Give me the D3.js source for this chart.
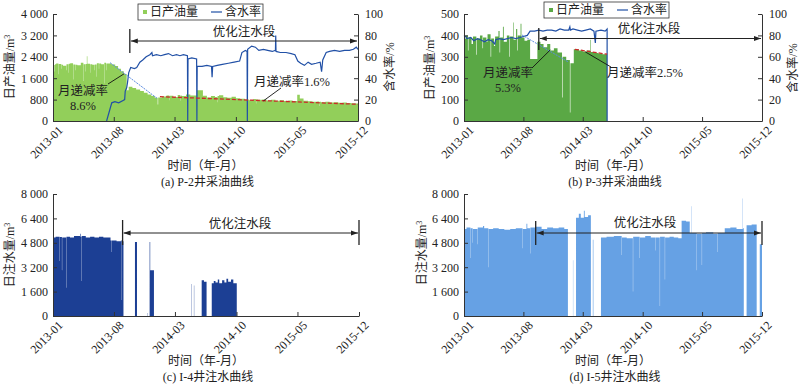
<!DOCTYPE html>
<html><head><meta charset="utf-8">
<script src="https://cdnjs.cloudflare.com/ajax/libs/d3/7.8.5/d3.min.js"></script>
<style>
html,body{margin:0;padding:0;background:#fff;}
svg{display:block;font-family:"Liberation Serif","Noto Sans CJK SC",serif;}
</style></head>
<body><svg id="c" width="800" height="384"></svg>
<script>
// ---------------- data ----------------
const xTickLabels = ["2013-01","2013-08","2014-03","2014-10","2015-05","2015-12"];
const oilTicksA = [0,800,1600,2400,3200,4000];
const oilTicksB = [0,100,200,300,400,500];
const wcTicks = [0,20,40,60,80,100];
const injTicks = [0,1600,3200,4800,6400,8000];

// P-2 daily oil (m3/d), step series [date, value]
const oilA = [["2013-01-01",2090],["2013-01-07",1850],["2013-01-08",2120],["2013-01-12",2150],["2013-01-20",1750],["2013-01-21",2130],["2013-01-30",1950],["2013-01-31",2100],["2013-02-05",2070],["2013-02-16",1900],["2013-02-17",2120],["2013-02-24",1800],["2013-02-25",2140],["2013-03-02",2160],["2013-03-12",1550],["2013-03-13",2110],["2013-03-20",1900],["2013-03-21",2100],["2013-03-27",2080],["2013-04-08",2180],["2013-04-17",1500],["2013-04-18",2120],["2013-04-24",1850],["2013-04-25",2130],["2013-04-29",2420],["2013-05-01",2140],["2013-05-10",1800],["2013-05-11",2120],["2013-05-18",2100],["2013-05-26",1900],["2013-05-27",2110],["2013-06-02",1650],["2013-06-03",2160],["2013-06-10",1950],["2013-06-11",2150],["2013-06-18",2120],["2013-06-28",1400],["2013-06-29",2180],["2013-07-05",1900],["2013-07-06",2150],["2013-07-12",2150],["2013-07-25",2110],["2013-08-06",2060],["2013-08-16",1950],["2013-08-26",1860],["2013-09-05",1760],["2013-09-15",1150],["2013-09-22",1280],["2013-10-05",1230],["2013-10-18",1180],["2013-11-01",1120],["2013-11-14",1060],["2013-11-27",990],["2013-12-10",930],["2013-12-22",870],["2014-01-01",620],["2014-01-03",880],["2014-01-16",920],["2014-02-01",950],["2014-02-10",780],["2014-02-11",940],["2014-02-25",900],["2014-03-12",970],["2014-03-20",760],["2014-03-21",950],["2014-03-26",930],["2014-04-10",990],["2014-04-25",950],["2014-05-18",1150],["2014-06-08",940],["2014-06-22",880],["2014-07-06",930],["2014-07-20",900],["2014-07-28",700],["2014-07-29",930],["2014-08-03",960],["2014-08-18",890],["2014-09-01",870],["2014-09-16",910],["2014-10-01",850],["2014-10-16",830],["2014-11-01",800],["2014-11-16",780],["2014-12-01",820],["2014-12-10",650],["2014-12-11",810],["2014-12-16",790],["2015-01-01",800],["2015-01-16",770],["2015-02-01",790],["2015-02-16",760],["2015-03-03",780],["2015-03-18",750],["2015-04-02",770],["2015-04-17",750],["2015-05-03",980],["2015-05-12",840],["2015-05-25",760],["2015-06-10",740],["2015-06-25",720],["2015-07-10",730],["2015-07-18",560],["2015-07-19",720],["2015-07-25",700],["2015-08-09",720],["2015-08-24",690],["2015-09-08",700],["2015-09-23",680],["2015-10-08",690],["2015-10-23",670],["2015-11-07",660],["2015-11-22",650],["2015-12-01",650]];

// P-2 water cut (%)
const wcA = [["2013-07-07",0],["2013-07-25",17],["2013-08-05",18],["2013-08-18",17],["2013-09-01",19],["2013-09-08",20],["2013-09-10",28],["2013-09-15",31],["2013-09-18",36],["2013-09-22",45],["2013-09-29",50],["2013-10-12",49],["2013-10-20",50],["2013-10-31",55],["2013-11-10",57],["2013-11-22",60],["2013-12-05",62],["2013-12-12",64],["2013-12-14",61],["2013-12-28",62],["2014-01-12",61],["2014-01-25",62],["2014-02-08",63],["2014-02-22",61],["2014-03-08",62],["2014-03-20",61],["2014-04-01",62],["2014-04-15",61],["2014-04-16",0],["2014-04-17",58],["2014-04-30",59],["2014-05-17",58],["2014-05-18",0],["2014-05-19",51],["2014-06-05",51],["2014-06-22",52],["2014-07-08",51],["2014-07-10",41],["2014-07-12",51],["2014-07-28",52],["2014-08-15",53],["2014-09-05",54],["2014-09-25",55],["2014-10-14",56],["2014-10-22",64],["2014-11-03",66],["2014-11-09",65],["2014-11-10",0],["2014-11-11",67],["2014-11-25",70],["2014-12-08",69],["2014-12-20",66],["2015-01-05",67],["2015-01-20",66],["2015-02-05",65],["2015-02-16",66],["2015-02-17",80],["2015-02-18",65],["2015-03-05",64],["2015-03-25",64],["2015-04-12",63],["2015-04-25",62],["2015-05-05",56],["2015-05-15",54],["2015-05-28",52],["2015-06-10",55],["2015-06-22",53],["2015-07-08",54],["2015-07-22",55],["2015-07-27",46],["2015-07-31",57],["2015-08-12",64],["2015-08-24",65],["2015-09-10",66],["2015-09-28",65],["2015-10-15",66],["2015-11-01",66],["2015-11-15",67],["2015-11-25",69],["2015-12-01",67]];

// P-3 daily oil (m3/d)
const oilB = [["2013-01-01",385],["2013-01-08",400],["2013-01-15",330],["2013-01-17",390],["2013-01-28",360],["2013-02-02",395],["2013-02-14",310],["2013-02-16",385],["2013-02-27",400],["2013-03-08",340],["2013-03-10",390],["2013-03-22",370],["2013-03-26",405],["2013-04-06",300],["2013-04-08",385],["2013-04-18",350],["2013-04-22",395],["2013-05-04",420],["2013-05-08",320],["2013-05-10",390],["2013-05-20",440],["2013-05-23",370],["2013-06-03",400],["2013-06-12",300],["2013-06-14",395],["2013-06-25",460],["2013-06-27",380],["2013-07-06",430],["2013-07-10",330],["2013-07-12",400],["2013-07-22",455],["2013-07-25",390],["2013-08-05",375],["2013-08-15",380],["2013-08-25",290],["2013-09-20",370],["2013-10-01",360],["2013-10-12",345],["2013-10-25",360],["2013-11-05",330],["2013-11-18",340],["2013-12-01",320],["2013-12-17",110],["2013-12-19",300],["2014-01-01",285],["2014-01-14",40],["2014-01-16",270],["2014-01-28",335],["2014-02-15",330],["2014-03-01",325],["2014-03-15",330],["2014-03-27",380],["2014-03-29",322],["2014-04-12",318],["2014-04-26",315],["2014-05-10",312],["2014-05-27",312]];

// P-3 water cut (%)
const wcB = [["2013-01-01",80],["2013-01-06",79],["2013-01-12",77],["2013-01-25",78],["2013-02-05",75],["2013-02-18",77],["2013-03-01",76],["2013-03-15",74],["2013-03-28",76],["2013-04-10",75],["2013-04-21",72],["2013-04-24",76],["2013-05-08",77],["2013-05-22",76],["2013-06-05",77],["2013-06-20",78],["2013-07-05",77],["2013-07-20",78],["2013-08-01",79],["2013-08-15",80],["2013-08-25",84],["2013-09-10",84],["2013-09-25",85],["2013-10-10",84],["2013-10-25",85],["2013-11-10",85],["2013-11-25",84],["2013-12-10",86],["2013-12-25",85],["2014-01-10",85],["2014-01-14",88],["2014-01-16",85],["2014-01-25",86],["2014-02-10",85],["2014-02-25",84],["2014-03-12",85],["2014-03-28",86],["2014-04-10",84],["2014-04-15",73],["2014-04-17",84],["2014-05-05",85],["2014-05-20",84],["2014-05-27",86],["2014-05-27",0]];

// I-4 daily injection (m3/d)
const injC = [["2013-01-01",5150],["2013-01-10",5200],["2013-01-24",3600],["2013-01-25",5180],["2013-02-01",3000],["2013-02-02",5150],["2013-02-16",1850],["2013-02-17",5200],["2013-03-01",5150],["2013-03-15",5250],["2013-04-05",5400],["2013-04-07",5200],["2013-04-10",2300],["2013-04-11",5250],["2013-04-25",5150],["2013-05-10",5200],["2013-05-25",5150],["2013-06-10",5200],["2013-06-25",5150],["2013-07-20",4950],["2013-07-24",4200],["2013-07-25",4950],["2013-08-10",4900],["2013-08-25",4950],["2013-08-28",1050],["2013-08-29",4900],["2013-09-03",0],["2013-10-13",4850],["2013-10-20",0],["2013-11-24",200],["2013-11-25",0],["2013-12-03",4850],["2013-12-05",3000],["2013-12-18",0],["2014-04-28",2100],["2014-04-29",0],["2014-05-06",2000],["2014-05-07",0],["2014-06-02",2350],["2014-06-10",2250],["2014-06-19",0],["2014-07-07",2150],["2014-07-14",2300],["2014-07-20",2200],["2014-07-28",2400],["2014-08-02",2150],["2014-08-12",2350],["2014-08-20",2200],["2014-08-27",2450],["2014-09-02",2250],["2014-09-12",2400],["2014-09-20",2150],["2014-10-02",0],["2015-12-01",0]];

// I-5 daily injection (m3/d)
const injD = [["2013-01-01",5700],["2013-01-10",5800],["2013-01-24",3800],["2013-01-25",5750],["2013-02-01",4800],["2013-02-02",5700],["2013-02-18",4700],["2013-02-19",5800],["2013-03-10",5900],["2013-03-14",5750],["2013-03-29",3200],["2013-03-30",5700],["2013-04-15",5750],["2013-05-05",5700],["2013-05-25",5650],["2013-06-15",5700],["2013-07-05",5750],["2013-07-29",4450],["2013-07-30",5700],["2013-08-12",6050],["2013-08-15",5750],["2013-08-25",4100],["2013-08-26",5800],["2013-09-15",5850],["2013-10-05",5700],["2013-10-25",5800],["2013-11-15",5750],["2013-12-05",5800],["2013-12-25",5700],["2014-01-07",0],["2014-01-25",3650],["2014-01-26",0],["2014-02-05",6450],["2014-02-15",6700],["2014-02-22",6450],["2014-03-05",6900],["2014-03-08",6500],["2014-03-20",6600],["2014-03-30",0],["2014-04-06",5000],["2014-04-08",0],["2014-05-05",5150],["2014-05-25",5200],["2014-06-20",5250],["2014-07-18",4000],["2014-07-19",5150],["2014-08-05",5100],["2014-08-27",1600],["2014-08-28",5200],["2014-09-20",3800],["2014-09-21",5150],["2014-10-10",5250],["2014-10-30",5150],["2014-11-15",4300],["2014-11-16",5150],["2014-12-01",650],["2014-12-02",5200],["2014-12-19",2400],["2014-12-20",5150],["2015-01-05",5200],["2015-01-20",5150],["2015-02-05",5100],["2015-02-17",6250],["2015-03-05",6200],["2015-03-18",5450],["2015-03-25",7200],["2015-03-26",5450],["2015-04-12",3000],["2015-04-13",5400],["2015-04-30",3350],["2015-05-01",5450],["2015-05-15",5500],["2015-06-10",5400],["2015-06-25",4200],["2015-06-26",5450],["2015-07-05",5450],["2015-07-21",5750],["2015-08-10",5800],["2015-09-01",5700],["2015-09-23",7700],["2015-09-24",5750],["2015-09-27",0],["2015-10-07",5950],["2015-10-25",6000],["2015-11-12",0],["2015-11-23",4700],["2015-12-01",4700]];

// decline trend lines [start, end]
const trendA1 = [["2013-07-19",2180],["2013-12-30",850]];
const trendA2 = [["2014-01-09",910],["2015-12-01",625]];
const trendB1 = [["2013-07-27",402],["2014-01-07",277]];
const trendB2 = [["2014-02-01",335],["2014-05-27",312]];

// ---------------- drawing ----------------
const parse = d3.timeParse("%Y-%m-%d");
const t0 = parse("2013-01-01"), t1 = parse("2015-12-01");
const xTickDates = xTickLabels.map(s => parse(s + "-01"));
const svg = d3.select("#c");
const fmtNum = v => d3.format(",")(v).replace(/,/g, " ");
const AX = "#333";

function toPts(arr){ return arr.map(d => ({date: parse(d[0]), v: d[1]})); }

svg.append("defs").html(
  '<marker id="ah" viewBox="0 0 10 10" refX="10" refY="5" markerWidth="7" markerHeight="7" orient="auto-start-reverse"><path d="M0,1.5 L10,5 L0,8.5 Z" fill="#222"/></marker>');

function panel(cfg){
  const g = svg.append("g");
  const x = d3.scaleTime().domain([t0, t1]).range([cfg.l, cfg.r]);
  const y = d3.scaleLinear().domain([0, cfg.ymax]).range([cfg.b, cfg.t]);

  // filled bars (step area)
  const area = d3.area().x(d => x(d.date)).y0(y(0)).y1(d => y(d.v)).curve(d3.curveStepAfter);
  g.append("path").datum(toPts(cfg.bars)).attr("d", area).attr("fill", cfg.barColor);

  let y2 = null;
  if (cfg.wc){
    y2 = d3.scaleLinear().domain([0, 100]).range([cfg.b, cfg.t]);
    const line = d3.line().x(d => x(d.date)).y(d => y2(d.v));
    g.append("path").datum(toPts(cfg.wc)).attr("d", line)
      .attr("fill","none").attr("stroke","#2150a6").attr("stroke-width",1.2);
  }
  if (cfg.trends){
    const line = d3.line().x(d => x(d.date)).y(d => y(d.v));
    cfg.trends.forEach(tr => {
      g.append("path").datum(toPts(tr.data)).attr("d", line).attr("fill","none")
        .attr("stroke", tr.color).attr("stroke-width", tr.w).attr("stroke-dasharray", tr.dash);
    });
  }

  // axes
  const ax = d3.axisBottom(x).tickValues(xTickDates).tickFormat(d3.timeFormat("%Y-%m"))
    .tickSizeInner(-4).tickSizeOuter(0);
  const gx = g.append("g").attr("transform", `translate(0,${cfg.b})`).call(ax);
  gx.selectAll("text").attr("x",0).attr("y",0).attr("dy","0.35em")
    .attr("text-anchor","end").attr("transform","translate(7,7) rotate(-45)");
  const ay = d3.axisLeft(y).tickValues(cfg.yticks).tickFormat(fmtNum).tickSizeInner(-4).tickSizeOuter(0).tickPadding(5);
  const gy = g.append("g").attr("transform", `translate(${cfg.l},0)`).call(ay);
  [gx, gy].forEach(a => {
    a.selectAll("path,line").attr("stroke", AX);
    a.selectAll("text").attr("font-size", 12).attr("fill","#222").attr("font-family","Liberation Serif");
  });
  if (y2){
    const ay2 = d3.axisRight(y2).tickValues(wcTicks).tickSizeInner(-4).tickSizeOuter(0).tickPadding(7);
    const gy2 = g.append("g").attr("transform", `translate(${cfg.r},0)`).call(ay2);
    gy2.selectAll("path,line").attr("stroke", AX);
    gy2.selectAll("text").attr("font-size", 12).attr("fill","#222").attr("font-family","Liberation Serif");
  }

  // axis titles
  const mid = (cfg.l + cfg.r) / 2;
  g.append("text").attr("x", mid).attr("y", cfg.b + 49).attr("text-anchor","middle")
    .attr("font-size",12).attr("fill","#222").text("时间（年-月）");
  g.append("text").attr("x", mid + 2).attr("y", cfg.b + 65).attr("text-anchor","middle")
    .attr("font-size",12).attr("fill","#222").text(cfg.title);
  const yl = g.append("text").attr("transform", `translate(${cfg.ylx},${cfg.yly}) rotate(-90)`)
    .attr("text-anchor","middle").attr("dy","0.35em").attr("font-size",12).attr("fill","#222");
  yl.append("tspan").text(cfg.ylabel);
  yl.append("tspan").attr("baseline-shift","super").attr("font-size",8).text("3");
  if (y2){
    g.append("text").attr("transform", `translate(${cfg.y2lx},${cfg.yly}) rotate(-90)`)
      .attr("text-anchor","middle").attr("dy","0.35em").attr("font-size",12).attr("fill","#222").text("含水率/%");
  }

  // optimized injection stage bracket
  const bx = x(parse(cfg.stage)), br = cfg.r;
  g.append("line").attr("x1",bx).attr("x2",bx).attr("y1",cfg.br[0]).attr("y2",cfg.br[1])
    .attr("stroke","#222").attr("stroke-width",1.3);
  if (cfg.rightBar){
    g.append("line").attr("x1",br).attr("x2",br).attr("y1",cfg.br[0]).attr("y2",cfg.br[1])
      .attr("stroke","#222").attr("stroke-width",1.3);
  }
  g.append("line").attr("x1",bx+1).attr("x2",br-1).attr("y1",cfg.arrowY).attr("y2",cfg.arrowY)
    .attr("stroke","#222").attr("stroke-width",1)
    .attr("marker-start","url(#ah)").attr("marker-end","url(#ah)");
  g.append("text").attr("x",cfg.stageTx).attr("y",cfg.stageTy).attr("text-anchor","middle")
    .attr("dy","0.35em").attr("font-size",12.5).attr("fill","#222").text("优化注水段");

  // legend
  if (cfg.legend){
    const L = cfg.legend;
    g.append("rect").attr("x",L.x).attr("y",L.y).attr("width",L.w).attr("height",16)
      .attr("fill","#fff").attr("stroke","#333").attr("stroke-width",0.8);
    g.append("rect").attr("x",L.x+5).attr("y",L.y+6).attr("width",4).attr("height",4).attr("fill",cfg.barColor);
    g.append("text").attr("x",L.x+12).attr("y",L.y+8).attr("dy","0.35em").attr("font-size",12).attr("fill","#222").text("日产油量");
    g.append("line").attr("x1",L.x+73).attr("x2",L.x+84).attr("y1",L.y+8).attr("y2",L.y+8).attr("stroke","#2150a6").attr("stroke-width",1.2);
    g.append("text").attr("x",L.x+87).attr("y",L.y+8).attr("dy","0.35em").attr("font-size",12).attr("fill","#222").text("含水率");
  }

  // annotations
  (cfg.notes || []).forEach(n => {
    g.append("line").attr("x1",x(parse(n.from[0]))).attr("y1",y(n.from[1]))
      .attr("x2",n.to[0]).attr("y2",n.to[1]).attr("stroke","#111").attr("stroke-width",0.9);
    n.lines.forEach((s,i) => {
      g.append("text").attr("x",n.tx).attr("y",n.ty + i*14.5).attr("text-anchor","middle")
        .attr("dy","0.35em").attr("font-size",12.5).attr("fill","#222").text(s);
    });
  });
}

panel({l:53, r:358, t:14, b:121, ymax:4000, yticks:oilTicksA, bars:oilA, barColor:"#92cf5a",
  wc:wcA, title:"(a) P-2井采油曲线", ylabel:"日产油量/m", ylx:10, yly:67, y2lx:390,
  stage:"2013-09-26", br:[29,53], arrowY:41, rightBar:false, stageTx:244, stageTy:32,
  legend:{x:138, y:4, w:125},
  trends:[{data:trendA1,color:"#5b8be0",w:1,dash:"2,1"},{data:trendA2,color:"#cc2a2a",w:1.3,dash:"4,2"}],
  notes:[{from:["2013-09-06",1765], to:[108,84], lines:["月递减率","8.6%"], tx:83, ty:91},
         {from:["2015-01-05",752], to:[281,88], lines:["月递减率1.6%"], tx:292, ty:82}]});

panel({l:464, r:762, t:14, b:121, ymax:500, yticks:oilTicksB, bars:oilB, barColor:"#5aa845",
  wc:wcB, title:"(b) P-3井采油曲线", ylabel:"日产油量/m", ylx:430, yly:68, y2lx:793,
  stage:"2013-09-25", br:[28,50], arrowY:38.5, rightBar:false, stageTx:649, stageTy:29,
  legend:{x:544, y:2, w:125},
  trends:[{data:trendB1,color:"#5b8be0",w:1,dash:"2,1"},{data:trendB2,color:"#cc2a2a",w:1.3,dash:"4,2"}],
  notes:[{from:["2013-11-05",332], to:[532,68], lines:["月递减率","5.3%"], tx:508, ty:73},
         {from:["2014-03-10",323], to:[611,67], lines:["月递减率2.5%"], tx:645, ty:73}]});

panel({l:53, r:359, t:194, b:316, ymax:8000, yticks:injTicks, bars:injC, barColor:"#1c3f94",
  title:"(c) I-4井注水曲线", ylabel:"日注水量/m", ylx:10, yly:255,
  stage:"2013-08-31", br:[220,245], arrowY:233, rightBar:true, stageTx:240, stageTy:224});

panel({l:464, r:762, t:194, b:316, ymax:8000, yticks:injTicks, bars:injD, barColor:"#66a1e4",
  title:"(d) I-5井注水曲线", ylabel:"日注水量/m", ylx:422, yly:253,
  stage:"2013-09-14", br:[221,245], arrowY:233, rightBar:true, stageTx:645, stageTy:223});
</script>
</body></html>
